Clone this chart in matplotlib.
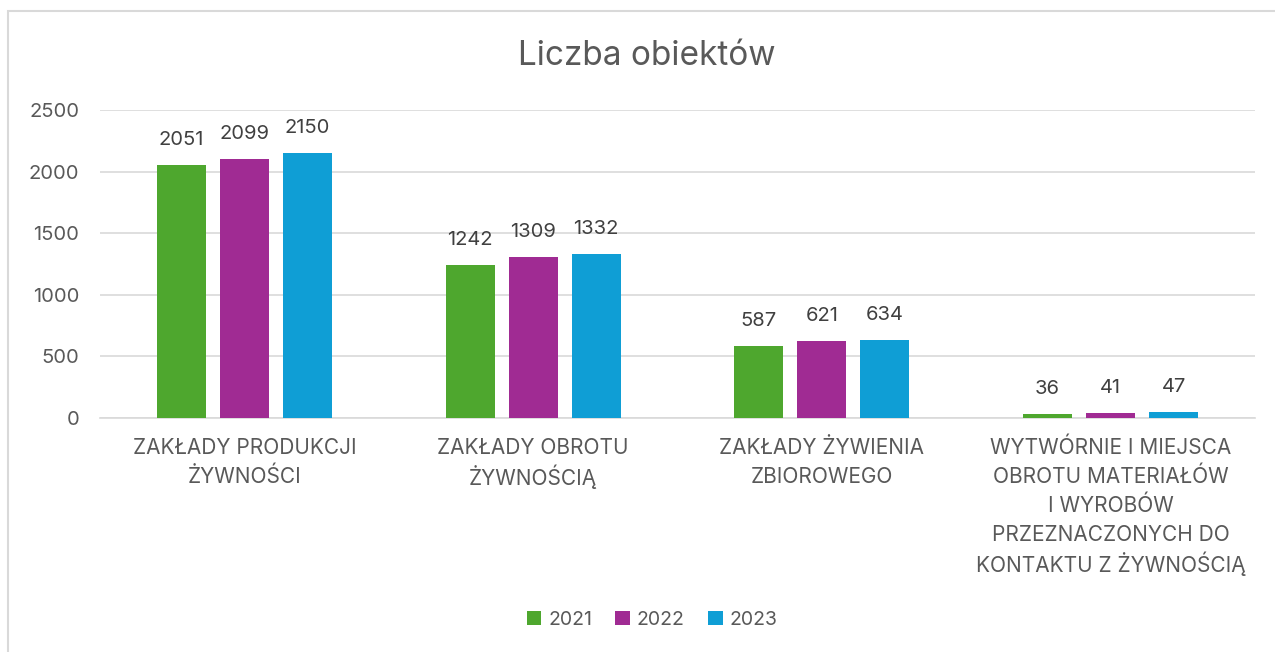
import matplotlib
matplotlib.use("Agg")
import matplotlib.pyplot as plt
import numpy as np

categories = [
    "ZAKŁADY PRODUKCJI\nŻYWNOŚCI",
    "ZAKŁADY OBROTU\nŻYWNOŚCIĄ",
    "ZAKŁADY ŻYWIENIA\nZBIOROWEGO",
    "WYTWÓRNIE I MIEJSCA\nOBROTU MATERIAŁÓW\nI WYROBÓW\nPRZEZNACZONYCH DO\nKONTAKTU Z ŻYWNOŚCIĄ",
]
years = ["2021", "2022", "2023"]
v2021 = [2051, 1242, 587, 36]
v2022 = [2099, 1309, 621, 41]
v2023 = [2150, 1332, 634, 47]
colors = ["#4EA72E", "#A02B93", "#0F9ED5"]
yticks = [0, 500, 1000, 1500, 2000, 2500]

plt.rcParams['font.family'] = ['Inter', 'DejaVu Sans']
txt = "#595959"

fig = plt.figure(figsize=(12.75, 6.52), dpi=100)
ax = fig.add_axes([100/1275, 1-418/652, 1155/1275, 308/652])

x = np.arange(len(categories))
w = 0.17
step = 0.218
for i, (vals, yr) in enumerate(zip([v2021, v2022, v2023], years)):
    bars = ax.bar(x + (i-1)*step, vals, w, color=colors[i], label=yr, zorder=3)
    for b, v in zip(bars, vals):
        ax.annotate(str(v), (b.get_x()+b.get_width()/2, v), xytext=(0, 16),
                    textcoords="offset pixels", ha="center", va="bottom",
                    fontsize=14.5, color="#404040")

ax.set_xlim(-0.5, 3.5)
ax.set_ylim(0, 2500)
ax.set_yticks(yticks)
ax.set_xticks(x)
ax.set_xticklabels([])
ax.tick_params(axis='y', labelsize=14.5, labelcolor=txt, length=0, pad=15)
ax.tick_params(axis='x', length=0)

# category labels line by line so the spacing stays even
for xi, cat in zip(x, categories):
    for j, line in enumerate(cat.split("\n")):
        ax.annotate(line, (xi, 0), xytext=(0, -30 - 29*j),
                    textcoords="offset pixels", ha="center", va="center",
                    fontsize=15, color=txt, annotation_clip=False)

ax.grid(axis='y', color="#D9D9D9", linewidth=1.2, zorder=0)
for s in ["top", "right", "left"]:
    ax.spines[s].set_visible(False)
ax.spines["bottom"].set_color("#D9D9D9")
ax.spines["bottom"].set_linewidth(1.2)

fig.text(647/1275, 1-56/652, "Liczba obiektów", ha="center", va="center",
         fontsize=24, color=txt)

fig.legend(loc="center", bbox_to_anchor=(652/1275, 1-620/652), ncol=3,
           frameon=False, fontsize=14, labelcolor=txt, handlelength=0.75,
           handleheight=0.75, handletextpad=0.35, columnspacing=1.2)

fig.add_artist(plt.Rectangle((8/1275, -0.05), 1.2, 1-11/652+0.05,
                             transform=fig.transFigure, fill=False,
                             edgecolor="#D9D9D9", linewidth=1.5))

fig.savefig("out.png", dpi=100)
